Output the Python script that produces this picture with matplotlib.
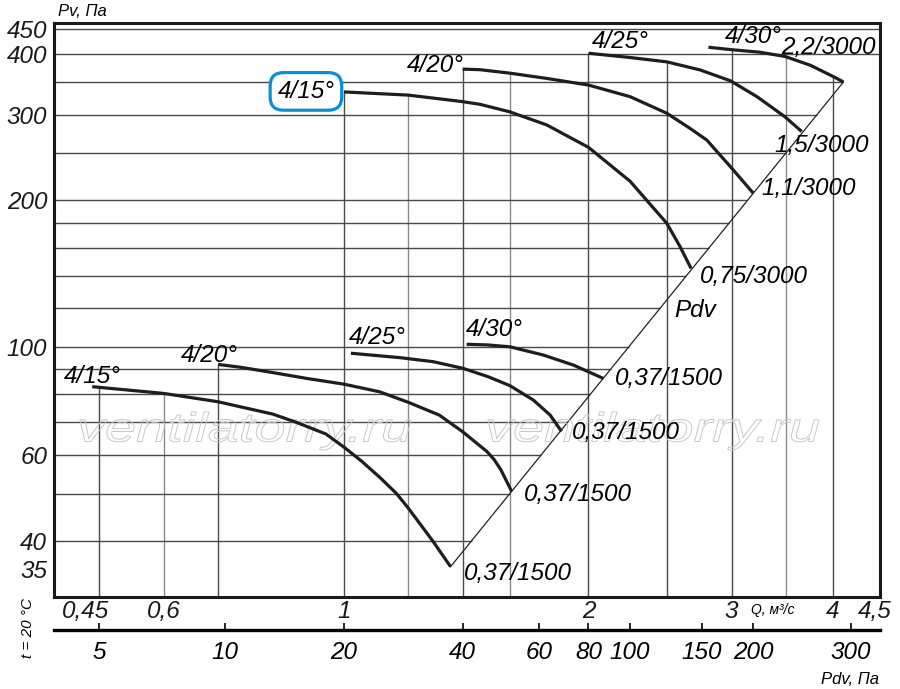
import numpy as np
import matplotlib.pyplot as plt
from matplotlib.textpath import TextPath
from matplotlib.patches import PathPatch
from matplotlib.font_manager import FontProperties
from matplotlib.transforms import Affine2D

plt.rcParams['font.family'] = ['Liberation Sans', 'DejaVu Sans']
plt.rcParams['font.style'] = 'italic'

# fan curves, Q in m3/s, Pv in Pa
# 3000 rpm
q_3000_15 = [1.0, 1.2, 1.4, 1.47, 1.6, 1.777, 2.0, 2.25, 2.497, 2.593, 2.675]
p_3000_15 = [334, 329, 319, 315, 304, 285.7, 257, 219, 179.5, 160.7, 145]
q_3000_20 = [1.40, 1.47, 1.60, 1.777, 2.0, 2.25, 2.497, 2.668, 2.797, 2.991, 3.19]
p_3000_20 = [372, 371, 365, 356, 345, 326.6, 302, 281, 266, 234.5, 207]
q_3000_25 = [2.0, 2.25, 2.497, 2.744, 2.991, 3.224, 3.49, 3.66]
p_3000_25 = [401, 393, 385, 370.6, 352, 326.6, 297, 277]
q_3000_30 = [2.81, 2.991, 3.25, 3.49, 3.749, 4.005, 4.12]
p_3000_30 = [412.5, 408, 403, 395, 379, 359, 350]
# 1500 rpm
q_1500_15 = [0.49, 0.60, 0.70, 0.745, 0.818, 0.8745, 0.95, 1.0, 1.05, 1.107,
             1.161, 1.2, 1.286, 1.353]
p_1500_15 = [82.9, 80.3, 77.2, 75.4, 72.8, 70.0, 66.3, 62.3, 58.4, 54.0,
             50.0, 46.7, 40.0, 35.4]
q_1500_20 = [0.70, 0.745, 0.818, 0.90, 1.0, 1.107, 1.2, 1.31, 1.40, 1.50,
             1.53, 1.56, 1.609]
p_1500_20 = [92.1, 90.9, 88.6, 86.2, 83.9, 80.9, 77.0, 72.5, 67.0, 61.0,
             58.8, 56.0, 50.5]
q_1500_25 = [1.02, 1.172, 1.288, 1.402, 1.505, 1.601, 1.711, 1.794, 1.853]
p_1500_25 = [97.1, 95.1, 93.3, 90.4, 86.9, 83.3, 77.8, 72.5, 67.1]
q_1500_30 = [1.416, 1.50, 1.601, 1.759, 1.917, 2.086]
p_1500_30 = [101.3, 101.0, 100.1, 96.3, 91.8, 86.2]

angles = ['4/15°', '4/20°', '4/25°', '4/30°']
motors_3000 = ['0,75/3000', '1,1/3000', '1,5/3000', '2,2/3000']
motors_1500 = ['0,37/1500', '0,37/1500', '0,37/1500', '0,37/1500']

# dynamic pressure line
pdv_line_q = [1.353, 4.12]
pdv_line_p = [35.4, 350]

q_ticks = [0.45, 0.6, 1, 2, 3, 4, 4.5]
q_labels = ['0,45', '0,6', '1', '2', '3', '4', '4,5']
p_ticks = [35, 40, 60, 100, 200, 300, 400, 450]
p_labels = ['35', '40', '60', '100', '200', '300', '400', '450']
pdv_vals = ['5', '10', '20', '40', '60', '80', '100', '150', '200', '300']
pdv_at_q = [0.50, 0.713, 1.0, 1.40, 1.74, 2.0, 2.25, 2.76, 3.19, 4.21]

grid_q = [0.5, 0.6, 0.7, 1, 1.2, 1.4, 1.6, 2, 2.5, 3, 3.5, 4]
grid_q_light = [0.6, 1.2, 1.6, 3.5]
grid_p = [40, 50, 60, 70, 80, 90, 100, 120, 140, 160, 180, 200, 250, 300, 350, 400, 450]

curves_3000 = [(q_3000_15, p_3000_15), (q_3000_20, p_3000_20),
               (q_3000_25, p_3000_25), (q_3000_30, p_3000_30)]
curves_1500 = [(q_1500_15, p_1500_15), (q_1500_20, p_1500_20),
               (q_1500_25, p_1500_25), (q_1500_30, p_1500_30)]

fig = plt.figure(figsize=(9, 6.89), dpi=100)
ax = fig.add_axes([0.0603, 0.1335, 0.9175, 0.8327])
ax.set_xscale('log')
ax.set_yscale('log')
xmin, xmax = 0.44, 4.57
ymin, ymax = 30.67, 462
ax.set_xlim(xmin, xmax)
ax.set_ylim(ymin, ymax)


def top_of_curves(q):
    best = None
    for qs, ps in curves_3000 + curves_1500:
        if qs[0] - 1e-6 <= q <= qs[-1]:
            v = 10 ** np.interp(np.log10(q), np.log10(qs), np.log10(ps))
            best = v if best is None else max(best, v)
    return best if best is not None else ymax


def pdv_q_at(p):
    return 10 ** np.interp(np.log10(p), np.log10(pdv_line_p), np.log10(pdv_line_q))


# grid: verticals up to the curves, horizontals up to the Pdv line
for q in grid_q:
    col = '#8a8a8a' if q in grid_q_light else '#4a4a4a'
    ax.vlines(q, ymin, top_of_curves(q), color=col, lw=1.0, zorder=1)
for p in grid_p:
    xend = xmax if p > pdv_line_p[-1] + 0.5 else pdv_q_at(p)
    ax.hlines(p, xmin, xend, color='#4a4a4a', lw=1.0, zorder=1)

ax.plot(pdv_line_q, pdv_line_p, color='#222222', lw=0.9, zorder=2)

for qs, ps in curves_3000 + curves_1500:
    ax.plot(qs, ps, color='#1e1e1e', lw=2.3, solid_capstyle='butt',
            solid_joinstyle='round', zorder=4)

fs = 17.5
# label offsets from curve start / end, pixels
off_a3000 = [(-38, -6), (-27, -3), (32, 5), (45, 4)]
off_m3000 = [(63, -15), (55, -2), (20, -21), (-15, 28)]
off_a1500 = [(0, 4), (-9, 2), (26, 9), (28, 8)]
off_m1500 = [(67, -13), (66, -9), (64, -8), (66, -7)]

for i, (qs, ps) in enumerate(curves_3000):
    kw = {}
    if i == 0:
        kw['bbox'] = dict(boxstyle='round,pad=0.3,rounding_size=0.55',
                          fc='white', ec='#0a8ed8', lw=2.3)
    ax.annotate(angles[i], (qs[0], ps[0]), xytext=off_a3000[i],
                textcoords='offset pixels', ha='center', va='baseline',
                fontsize=fs, zorder=3, **kw)
    ax.annotate(motors_3000[i], (qs[-1], ps[-1]), xytext=off_m3000[i],
                textcoords='offset pixels', ha='center', va='baseline',
                fontsize=fs, zorder=3)
for i, (qs, ps) in enumerate(curves_1500):
    ax.annotate(angles[i], (qs[0], ps[0]), xytext=off_a1500[i],
                textcoords='offset pixels', ha='center', va='baseline',
                fontsize=fs, zorder=3)
    ax.annotate(motors_1500[i], (qs[-1], ps[-1]), xytext=off_m1500[i],
                textcoords='offset pixels', ha='center', va='baseline',
                fontsize=fs, zorder=3)

ax.text(2.706, 119, 'Pdv', fontsize=fs, ha='center', va='center', zorder=3)

# axes and ticks
for s in ax.spines.values():
    s.set_linewidth(2.2)
    s.set_color('#1a1a1a')
ax.set_xticks([], minor=True)
ax.set_yticks([], minor=True)
ax.set_xticks(q_ticks, labels=q_labels)
ax.set_yticks(p_ticks, labels=p_labels)
ax.tick_params(axis='both', length=0, labelsize=fs, colors='#1a1a1a')
ax.tick_params(axis='x', pad=2)
ax.tick_params(axis='y', pad=5)
ax.get_xticklabels()[0].set_ha('left')

sec = ax.secondary_xaxis(-0.0575)
sec.set_xticks([], minor=True)
sec.set_xticks(pdv_at_q, labels=pdv_vals)
sec.tick_params(direction='in', length=5, width=1.2, labelsize=fs, pad=8)
sec.spines['bottom'].set_linewidth(2.4)

fig.text(82 / 900, 1 - 11 / 689, 'Pv, Па', fontsize=12, ha='center', va='center')
fig.text(773 / 900, 1 - 610 / 689, 'Q, м³/с', fontsize=10, ha='center', va='center')
fig.text(850 / 900, 1 - 680 / 689, 'Pdv, Па', fontsize=12, ha='center', va='center')
fig.text(28 / 900, 1 - 628 / 689, 't = 20 °C', fontsize=11, rotation=90,
         ha='center', va='center')

# watermark, outlined wide italic text
wm = TextPath((0, 0), 'ventilatorry.ru', size=1,
              prop=FontProperties(family='Liberation Sans', style='italic'))
wb = wm.get_extents()
for left in (80, 488):
    sx = 331 / wb.width
    tr = Affine2D().translate(-wb.x0, 0).scale(sx, 41).translate(left, 689 - 441.5)
    ax.add_patch(PathPatch(wm, transform=tr, fc='none', ec='#c8c8c8',
                           lw=0.7, zorder=2.5))

fig.savefig('out.png', dpi=100)
